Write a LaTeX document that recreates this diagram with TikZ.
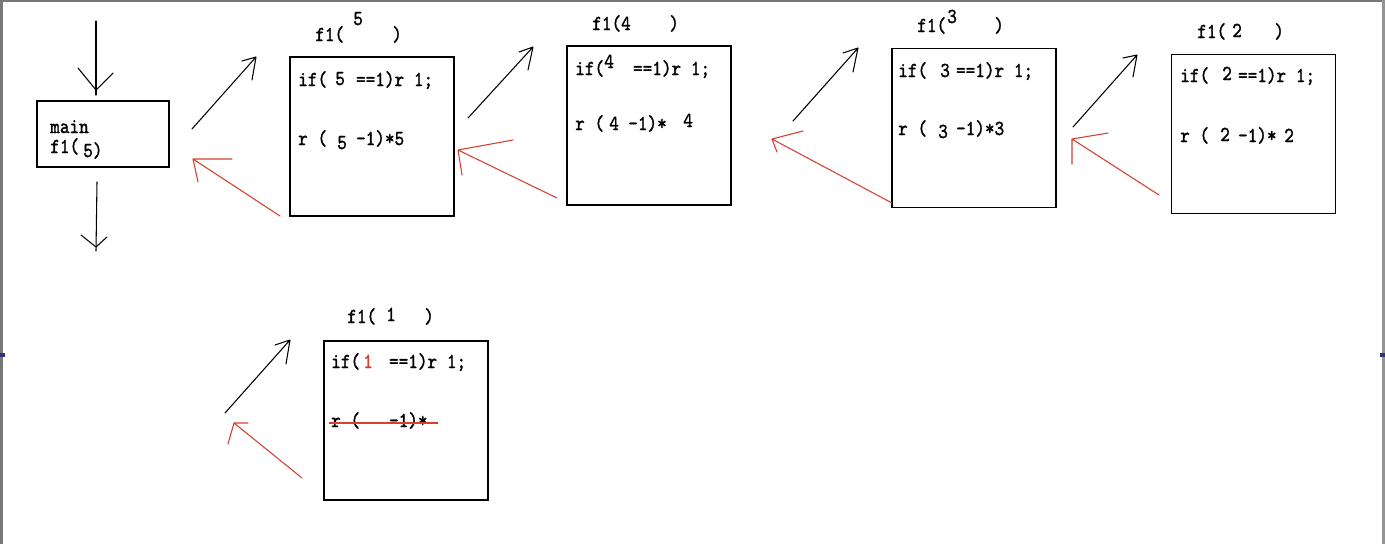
\documentclass[tikz,border=0pt]{standalone}
\usetikzlibrary{calc}
\definecolor{handred}{RGB}{214,64,48}
\definecolor{frame}{RGB}{120,120,120}
\definecolor{edgeblue}{RGB}{50,50,120}
\font\codefont="[lmmono10-regular.otf]:embolden=1.3;extend=0.86" at 16pt
\newcommand\monofont{\codefont}
\tikzset{
  txt/.style={anchor=base west, inner sep=0pt, font=\monofont},
  callbox/.style={draw, line width=1.15pt, minimum width=123pt, minimum height=119.25pt, inner sep=0pt},
  mainbox/.style={draw, line width=1.15pt, minimum width=99pt, minimum height=49.5pt, inner sep=0pt},
  callarrow/.style={draw=black, line width=0.8pt, line cap=round, line join=round},
  retarrow/.style={draw=handred, line width=0.8pt, line cap=round, line join=round},
}
\begin{document}
\begin{tikzpicture}[x=0.75pt,y=-0.75pt]
\useasboundingbox (0,0) rectangle (1385,544);
\fill[white] (0,0) rectangle (1385,544);
% window frame
\fill[frame] (0,0) rectangle (1385,2);
\fill[frame] (0,0) rectangle (3,544);
\fill[frame!80] (1382,0) rectangle (1385,544);
\fill[edgeblue] (0,353) rectangle (5,357);
\fill[edgeblue] (1380,353) rectangle (1385,357);

% boxes
\node[mainbox] (main) at (103,134) {};
\node[callbox] (f5) at (372,136.5) {};
\node[callbox] (f4) at (649,125.5) {};
\node[callbox] (f3) at (974,128) {};
\node[callbox] (f2) at (1253.5,134) {};
\node[callbox] (f1) at (406,420.5) {};

% main box text
\node[txt] (mainA) at (50,133) {main};
\node[txt] (mainB) at (50,153) {f1(};
\node[txt] (mainC) at (83,157) {5)};

% f1(5)
\node[txt] (l5) at (315,41) {f1(\ \ \ \ \ )};
\node[txt] (l5d) at (353,25) {5};
\node[txt] (r5a) at (298,86) {if(\ \ \ ==1)r 1;};
\node[txt] (r5ad) at (335,85) {5};
\node[txt] (r5b) at (298,145) {r (\ \ \ -1)*5};
\node[txt] (r5bd) at (337,149) {5};

% f1(4)
\node[txt] (l4) at (592,30) {f1(4\ \ \ \ )};
\node[txt] (r4a) at (575,75) {if(\ \ \ ==1)r 1;};
\node[txt] (r4ad) at (604,68) {4};
\node[txt] (r4b) at (575,130) {r (};
\node[txt] (r4bd) at (609,130) {4};
\node[txt] (r4bm) at (628,130) {-1)*};
\node[txt] (r4be) at (683,127) {4};

% f1(3)
\node[txt] (l3) at (917,32) {f1(\ \ \ \ \ )};
\node[txt] (l3d) at (947,23) {3};
\node[txt] (r3a) at (898,77) {if(\ \ \ ==1)r 1;};
\node[txt] (r3ad) at (940,77) {3};
\node[txt] (r3b) at (898,135) {r (\ \ \ -1)*3};
\node[txt] (r3bd) at (938,138) {3};

% f1(2)
\node[txt] (l2) at (1197,38) {f1(\ \ \ \ \ )};
\node[txt] (l2d) at (1232,37) {2};
\node[txt] (r2a) at (1180,82) {if(\ \ \ ==1)r 1;};
\node[txt] (r2ad) at (1222,80) {2};
\node[txt] (r2b) at (1180,142) {r (\ \ \ -1)*};
\node[txt] (r2bd) at (1220,141) {2};
\node[txt] (r2be) at (1284,142) {2};

% f1(1)
\node[txt] (l1) at (347,323) {f1(\ \ \ \ \ )};
\node[txt] (l1d) at (386,321) {1};
\node[txt] (r1a) at (331,368) {if(\ \ \ ==1)r 1;};
\node[txt, text=handred] (r1ad) at (363,368) {1};
\node[txt] (r1b) at (331,427) {r (\ \ \ -1)*};
\coordinate (s1) at (329,423);
\coordinate (s2) at (438,423);
\draw[handred, line width=1pt] (s1) -- (s2);

% arrows: into main and out of main
\coordinate (inS) at (96,21);   \coordinate (inT) at (96,95);
\coordinate (inV) at (96,90);
\draw[callarrow] (inS) -- (inT);
\draw[callarrow] (78,68) -- (inV) -- (113,73);
\coordinate (outS) at (97,182); \coordinate (outT) at (96,251);
\coordinate (outV) at (96,247);
\draw[callarrow] (outS) -- (outT);
\draw[callarrow] (81,235) -- (outV) -- (107,237);

% call arrows (black)
\coordinate (c1s) at (192,129);  \coordinate (c1t) at (256,57);
\draw[callarrow] (c1s) -- (c1t) (242,61) -- (c1t) -- (252,80);
\coordinate (c2s) at (468,118);  \coordinate (c2t) at (533,47);
\draw[callarrow] (c2s) -- (c2t) (519,52) -- (c2t) -- (528,70);
\coordinate (c3s) at (793,121);  \coordinate (c3t) at (858,48);
\draw[callarrow] (c3s) -- (c3t) (843,53) -- (c3t) -- (853,72);
\coordinate (c4s) at (1073,127); \coordinate (c4t) at (1137,55);
\draw[callarrow] (c4s) -- (c4t) (1123,58) -- (c4t) -- (1133,77);
\coordinate (c5s) at (225,413);  \coordinate (c5t) at (290,340);
\draw[callarrow] (c5s) -- (c5t) (275,345) -- (c5t) -- (286,364);

% return arrows (red)
\coordinate (r1s) at (280,216);  \coordinate (r1t) at (193,159);
\draw[retarrow] (r1s) -- (r1t) (232,159) -- (r1t) -- (198,182);
\coordinate (r2s) at (557,198);  \coordinate (r2t) at (458,150);
\draw[retarrow] (r2s) -- (r2t) (513,140) -- (r2t) -- (462,175);
\coordinate (r3s) at (892,203);  \coordinate (r3t) at (772,139);
\draw[retarrow] (r3s) -- (r3t) (803,131) -- (r3t) -- (777,152);
\coordinate (r4s) at (1159,195); \coordinate (r4t) at (1072,139);
\draw[retarrow] (r4s) -- (r4t) (1108,133) -- (r4t) -- (1072,164);
\coordinate (r5s) at (302,478);  \coordinate (r5t) at (234,423);
\draw[retarrow] (r5s) -- (r5t) (248,423) -- (r5t) -- (228,444);
\end{tikzpicture}
\end{document}
